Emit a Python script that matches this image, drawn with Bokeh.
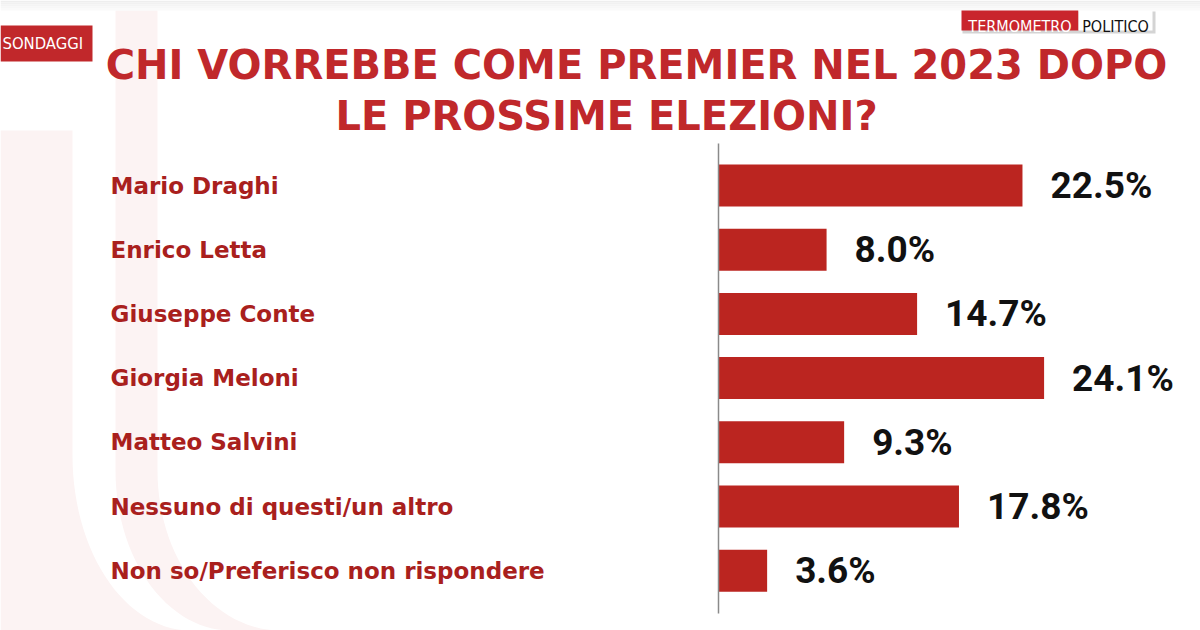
import numpy as np
from bokeh.plotting import figure
from bokeh.models import Range1d, ColumnDataSource, Label
from bokeh.core.properties import value
from bokeh.embed import file_html
from bokeh.resources import INLINE

# ---- data ----
categories = [
    "Mario Draghi",
    "Enrico Letta",
    "Giuseppe Conte",
    "Giorgia Meloni",
    "Matteo Salvini",
    "Nessuno di questi/un altro",
    "Non so/Preferisco non rispondere",
]
values = [22.5, 8.0, 14.7, 24.1, 9.3, 17.8, 3.6]
value_labels = ["22.5%", "8.0%", "14.7%", "24.1%", "9.3%", "17.8%", "3.6%"]
title_line1 = "CHI VORREBBE COME PREMIER NEL 2023 DOPO"
title_line2 = "LE PROSSIME ELEZIONI?"
tag_text = "SONDAGGI"
logo_left = "TERMOMETRO"
logo_right = "POLITICO"

# ---- layout constants (pixels) ----
W, H = 1200, 630
X0PX = 718.0     # pixel of 0 %
XS = 13.51       # pixels per %
Y0PX = 185.0     # pixel of first bar centre
YS = 64.2        # pixels per row

def xd(px):
    return (px - X0PX) / XS

def yd(py):
    return (py - Y0PX) / YS

COND = value("DejaVu Sans Condensed")
VALFONT = value("Roboto")

BAR_RED = "#bb2520"
TEXT_RED = "#a9201d"
TITLE_RED = "#c0282b"
PINK = "#fcf3f3"

p = figure(width=W, height=H, output_backend="svg", toolbar_location=None,
           x_range=Range1d(xd(0), xd(W)), y_range=Range1d(yd(H), yd(0)),
           min_border=0, min_border_left=0, min_border_right=0,
           min_border_top=0, min_border_bottom=0)
p.axis.visible = False
p.grid.visible = False
p.outline_line_color = None
p.background_fill_color = "white"
p.border_fill_color = "white"

# ---- faint background "b" decoration ----
t = np.linspace(0, np.pi / 2, 30)
ax = np.concatenate([[0, 72, 72], 72 + 118 * (1 - np.cos(t)), [0]])
ay = np.concatenate([[130, 130, 455], 455 + 175 * np.sin(t), [630]])
p.patch([xd(v) for v in ax], [yd(v) for v in ay], fill_color=PINK, line_color=None)
lx_ = 115 + 115 * (1 - np.cos(t))
ly_ = 470 + 160 * np.sin(t)
rx_ = 157 + 123 * (1 - np.cos(t))
ry_ = 470 + 160 * np.sin(t)
bx = np.concatenate([[115], lx_, rx_[::-1], [157]])
by = np.concatenate([[10], ly_, ry_[::-1], [10]])
p.patch([xd(v) for v in bx], [yd(v) for v in by], fill_color=PINK, line_color=None)

# ---- SONDAGGI tag ----
p.quad(left=[xd(0)], right=[xd(92)], top=[yd(25)], bottom=[yd(61)],
       fill_color="#c1282b", line_color=None)
p.text(x=[xd(2)], y=[yd(43)], text=[tag_text], text_color="white",
       text_font=COND, text_font_size="16.5px", text_baseline="middle", text_align="left")

# ---- logo top-right ----
p.quad(left=[xd(962)], right=[xd(1155)], top=[yd(11)], bottom=[yd(33)],
       fill_color="#d4d4d4", line_color=None)
p.quad(left=[xd(961)], right=[xd(1078)], top=[yd(9)], bottom=[yd(30)],
       fill_color="#c9252c", line_color=None)
p.quad(left=[xd(1078)], right=[xd(1152)], top=[yd(9)], bottom=[yd(30)],
       fill_color="white", line_color=None)
p.text(x=[xd(1019.5)], y=[yd(26)], text=[logo_left], text_color="white",
       text_font=COND, text_font_size="16px", text_baseline="alphabetic", text_align="center")
p.text(x=[xd(1115)], y=[yd(26)], text=[logo_right], text_color="#111111",
       text_font=COND, text_font_size="16px", text_baseline="alphabetic", text_align="center")
for k, c in enumerate(["#eeeeee", "#f1f1f1", "#f4f4f4", "#f7f7f7", "#fafafa"]):
    p.quad(left=[xd(0)], right=[xd(W)], top=[yd(k * 2)], bottom=[yd(k * 2 + 2)],
           fill_color=c, line_color=None)

# ---- title ----
p.add_layout(Label(x=636, y=H - 64, x_units="screen", y_units="screen",
                   text=title_line1, text_color=TITLE_RED, text_font="DejaVu Sans",
                   text_font_style="bold", text_font_size="40px",
                   text_align="center", text_baseline="alphabetic"))
p.add_layout(Label(x=606, y=H - 115, x_units="screen", y_units="screen",
                   text=title_line2, text_color=TITLE_RED, text_font="DejaVu Sans",
                   text_font_style="bold", text_font_size="40px",
                   text_align="center", text_baseline="alphabetic"))

# ---- bars ----
idx = list(range(len(categories)))
src = ColumnDataSource(dict(
    y=idx, v=values, lab=value_labels, cat=categories,
    lx=[v + 28.0 / XS for v in values],
    cx=[xd(110)] * len(idx),
))
p.hbar(y="y", left=0, right="v", height=42.0 / YS, source=src,
       fill_color=BAR_RED, line_color=None)

p.segment(x0=[0], x1=[0], y0=[yd(143)], y1=[yd(613)], line_color="#8a8a8a", line_width=1.5)

p.text(x="lx", y="y", text="lab", source=src, text_color="#111111",
       text_font=VALFONT, text_font_style="bold", text_font_size="37px",
       text_baseline="middle", text_align="left")

p.text(x="cx", y="y", text="cat", source=src, text_color=TEXT_RED,
       text_font=value("DejaVu Sans"), text_font_style="bold",
       text_font_size="23px", text_baseline="middle", text_align="left")

open("out.html", "w").write(file_html(p, INLINE))
